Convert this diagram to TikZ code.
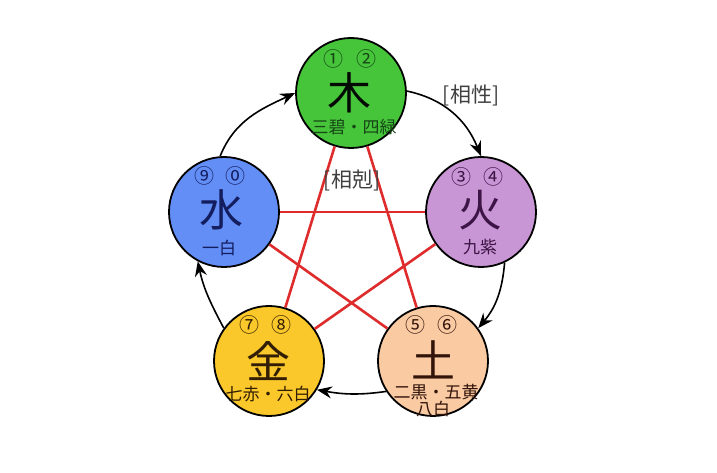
\documentclass[tikz,border=0pt]{standalone}
\usepackage{fontspec}
\setmainfont{Noto Sans CJK JP}
\usetikzlibrary{arrows.meta}
\definecolor{mokuF}{RGB}{70,196,58}
\definecolor{kaF}{RGB}{200,150,212}
\definecolor{suiF}{RGB}{98,142,246}
\definecolor{kinF}{RGB}{250,200,42}
\definecolor{doF}{RGB}{250,202,162}
\definecolor{mokuT}{RGB}{22,70,22}
\definecolor{kaT}{RGB}{60,20,70}
\definecolor{suiT}{RGB}{20,30,95}
\definecolor{kinT}{RGB}{50,30,5}
\definecolor{doT}{RGB}{50,20,10}
\definecolor{kokuRed}{RGB}{222,44,44}
\begin{document}
\begin{tikzpicture}[x=1pt,y=1pt,
  elem/.style={circle, draw=black, line width=1.8pt, minimum size=110pt, inner sep=0pt},
  bigch/.style={font=\fontsize{44}{44}\selectfont, inner sep=0pt},
  subt/.style={font=\fontsize{17}{17}\selectfont, inner sep=0pt},
  numt/.style={font=\fontsize{20}{20}\selectfont, inner sep=0pt},
  kokuline/.style={draw=kokuRed, line width=2.6pt},
  seiarrow/.style={draw=black, line width=1.6pt, -{Stealth[length=15pt,width=12pt,inset=5pt]}},
  lbl/.style={font=\fontsize{21}{21}\selectfont, text=black!75, inner sep=0pt}
]
\fill[white] (0,0) rectangle (717,473);
\useasboundingbox (0,0) rectangle (717,473);

% circles
\node[elem, fill=mokuF] (moku) at (351,380) {};
\node[elem, fill=kaF]   (ka)   at (481,261) {};
\node[elem, fill=suiF]  (sui)  at (224,261) {};
\node[elem, fill=kinF]  (kin)  at (269,112) {};
\node[elem, fill=doF]   (do)   at (433,112) {};

% star (sokoku)
\draw[kokuline] (moku) -- (do);
\draw[kokuline] (moku) -- (kin);
\draw[kokuline] (sui) -- (ka);
\draw[kokuline] (sui) -- (do);
\draw[kokuline] (ka) -- (kin);

% sosei arrows
\draw[seiarrow] (sui.94) to[out=68,in=205] (moku.180);
\draw[seiarrow] (moku.2) to[out=-12,in=112] (ka.90);
\draw[seiarrow] (ka.-65) to[out=-95,in=50] (do.36);
\draw[seiarrow] (do.213) to[out=188,in=-10] (kin.-31);
\draw[seiarrow] (kin.144) to[out=118,in=282] (sui.242);

% texts: moku
\node[numt, text=mokuT] (mokuA) at ([shift={(-18,34)}]moku.center) {①};
\node[numt, text=mokuT] (mokuB) at ([shift={(15,34)}]moku.center) {②};
\node[bigch, text=black!85!mokuT] (mokuC) at ([shift={(-2,0)}]moku.center) {木};
\node[subt, text=mokuT] (mokuD) at ([shift={(3,-34)}]moku.center) {三碧・四緑};
% ka
\node[numt, text=kaT] (kaA) at ([shift={(-20,35)}]ka.center) {③};
\node[numt, text=kaT] (kaB) at ([shift={(12,35)}]ka.center) {④};
\node[bigch, text=kaT] (kaC) at ([shift={(-1,2)}]ka.center) {火};
\node[subt, text=kaT] (kaD) at ([shift={(-1,-35)}]ka.center) {九紫};
% sui
\node[numt, text=suiT] (suiA) at ([shift={(-20,36)}]sui.center) {⑨};
\node[numt, text=suiT] (suiB) at ([shift={(11,36)}]sui.center) {⓪};
\node[bigch, text=suiT] (suiC) at ([shift={(-3,2)}]sui.center) {水};
\node[subt, text=suiT] (suiD) at ([shift={(-5,-36)}]sui.center) {一白};
% kin
\node[numt, text=kinT] (kinA) at ([shift={(-20,36)}]kin.center) {⑦};
\node[numt, text=kinT] (kinB) at ([shift={(12,36)}]kin.center) {⑧};
\node[bigch, text=kinT] (kinC) at ([shift={(-1,0)}]kin.center) {金};
\node[subt, text=kinT] (kinD) at ([shift={(-1,-33)}]kin.center) {七赤・六白};
% do
\node[numt, text=doT] (doA) at ([shift={(-18,36)}]do.center) {⑤};
\node[numt, text=doT] (doB) at ([shift={(14,36)}]do.center) {⑥};
\node[bigch, text=doT] (doC) at ([shift={(0,1)}]do.center) {土};
\node[subt, text=doT] (doD) at ([shift={(3,-31)}]do.center) {二黒・五黄};
\node[subt, text=doT] (doE) at ([shift={(0,-48)}]do.center) {八白};

% labels
\node[lbl] (sosei) at (471,378) {[相性]};
\node[lbl] (sokoku) at (352,293) {[相剋]};
\end{tikzpicture}
\end{document}
